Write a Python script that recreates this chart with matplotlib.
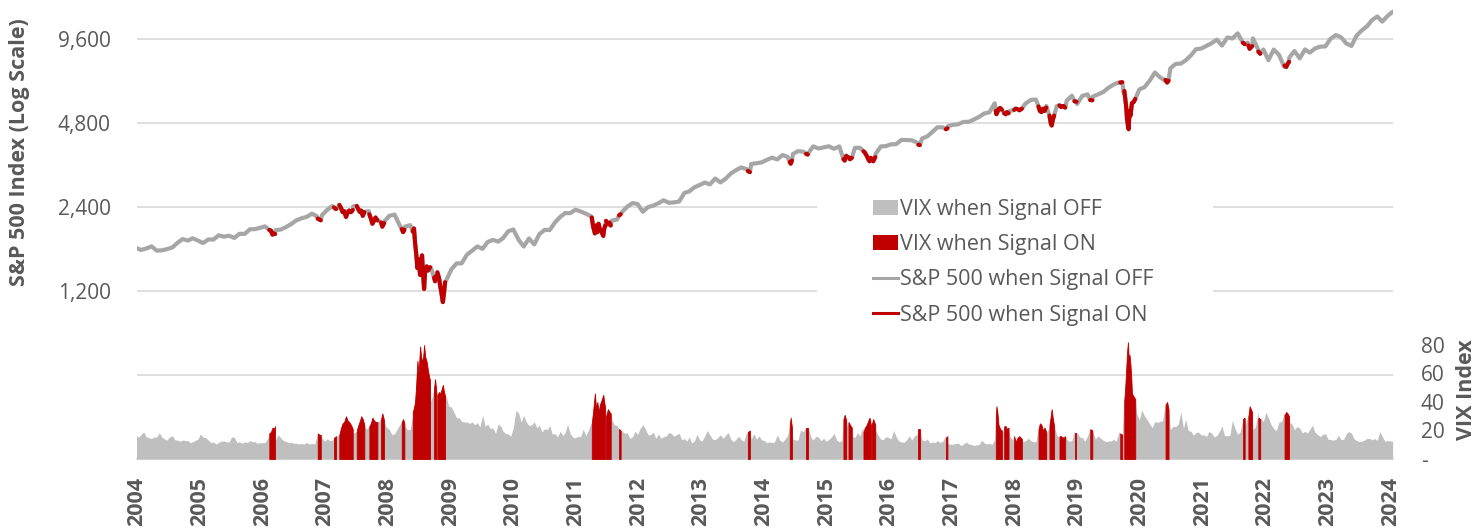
import numpy as np
import pandas as pd
import matplotlib
matplotlib.use("Agg")
import matplotlib.pyplot as plt
from matplotlib.patches import Patch, Rectangle
from matplotlib.lines import Line2D

plt.rcParams['font.family'] = ['Open Sans', 'DejaVu Sans']

# ---------------- data ----------------
# month-end values, Mar 2004 .. Jun 2024
base_start = '2004-03-31'
spx_base = [
    1712, 1683, 1704, 1734, 1675, 1678, 1695, 1718, 1784, 1842,
    1819, 1854, 1819, 1782, 1836, 1834, 1900, 1879, 1893, 1859, 1923, 1922,
    1997, 1998, 2020, 2045, 1981, 1981, 1992, 2034, 2084, 2150, 2186, 2212,
    2272, 2223, 2245, 2342, 2419, 2375, 2299, 2329, 2413, 2447, 2340, 2319,
    2220, 2143, 2130, 2231, 2254, 2061, 2040, 2066, 1877, 1560, 1443, 1454,
    1355, 1205, 1309, 1432, 1507, 1507, 1619, 1674, 1733, 1699, 1797, 1829,
    1804, 1855, 1964, 1994, 1830, 1732, 1851, 1762, 1917, 1987, 1984, 2113,
    2212, 2282, 2281, 2346, 2313, 2272, 2222, 2097, 1945, 2155, 2145, 2164,
    2309, 2404, 2478, 2460, 2306, 2397, 2427, 2476, 2536, 2485, 2492, 2510,
    2696, 2727, 2824, 2876, 2936, 2891, 3035, 2939, 3028, 3163, 3251, 3326,
    3281, 3421, 3444, 3467, 3540, 3606, 3553, 3686, 3628, 3713, 3805, 3789,
    3751, 3957, 3888, 3922, 3961, 3878, 3956, 3707, 3610, 3909, 3910, 3843,
    3725, 3709, 3955, 3965, 4026, 4030, 4174, 4168, 4163, 4082, 4222, 4299,
    4467, 4633, 4631, 4673, 4728, 4749, 4841, 4845, 4937, 5047, 5190, 5241,
    5648, 5428, 5282, 5296, 5410, 5436, 5632, 5804, 5828, 5424, 5520, 5014,
    5516, 5679, 5781, 6010, 5614, 6002, 6079, 5969, 6073, 6198, 6408, 6591,
    6710, 6144, 5377, 6057, 6332, 6448, 6804, 7280, 6995, 6802, 7534, 7812,
    7837, 8041, 8383, 8822, 8870, 9069, 9273, 9544, 9090, 9717, 9636, 10056,
    9619, 9317, 9649, 8801, 8801, 8062, 8797, 8424, 7638, 8247, 8690, 8179,
    8806, 8575, 8875, 9005, 9029, 9612, 9912, 9737, 9262, 9059, 9867, 10303,
    10661, 11211, 11559, 11079, 11612, 12012,
]
vix_base = [
    16.7, 17.2, 15.5, 14.3, 15.3, 15.3, 13.3, 16.3, 13.2, 13.3,
    12.8, 12.1, 14.0, 15.3, 13.3, 12.0, 11.6, 12.6, 11.9, 15.3, 12.1, 12.1,
    12.9, 12.3, 11.4, 11.6, 16.4, 13.1, 14.9, 12.3, 11.8, 11.1, 10.9, 11.6,
    11.0, 15.4, 14.6, 14.2, 13.1, 16.2, 23.5, 23.4, 18.0, 18.5, 22.9, 22.5,
    26.2, 26.5, 25.6, 20.8, 17.8, 23.9, 22.9, 20.7, 39.4, 59.9, 55.3, 40.0,
    44.8, 46.4, 44.1, 36.5, 28.9, 26.4, 25.9, 26.0, 25.6, 30.7, 24.5, 21.7,
    24.6, 19.5, 17.6, 22.1, 32.1, 30.5, 23.5, 26.1, 23.7, 21.2, 23.5, 17.8,
    19.5, 18.4, 17.7, 14.8, 15.5, 16.5, 25.3, 31.6, 42.9, 29.9, 27.8, 23.4,
    19.4, 18.4, 15.5, 17.2, 24.1, 17.1, 18.9, 17.5, 15.7, 18.6, 16.0, 18.0,
    14.3, 15.5, 12.7, 13.5, 16.3, 16.9, 13.5, 17.0, 16.6, 13.8, 13.7, 13.7,
    18.4, 14.0, 13.9, 13.4, 11.4, 11.6, 17.0, 12.0, 16.3, 14.0, 13.3, 19.2,
    21.0, 13.3, 15.3, 14.6, 13.8, 18.2, 12.1, 28.4, 24.5, 15.1, 16.1, 18.2,
    20.2, 20.6, 13.9, 15.7, 14.2, 15.6, 11.9, 13.4, 13.3, 17.1, 13.3, 14.0,
    12.0, 12.9, 12.4, 10.8, 10.4, 11.2, 10.3, 10.6, 9.5, 10.2, 11.3, 11.0,
    13.5, 19.9, 20.0, 15.9, 15.4, 16.1, 12.8, 12.9, 12.1, 21.2, 18.1, 25.4,
    16.6, 14.8, 13.7, 13.1, 18.7, 15.1, 16.1, 19.0, 16.2, 13.2, 12.6, 13.8,
    18.8, 40.1, 53.5, 34.2, 27.5, 30.4, 24.5, 26.4, 26.4, 38.0, 20.6, 22.8,
    33.1, 27.9, 19.4, 18.6, 16.8, 15.8, 18.2, 16.5, 23.1, 16.3, 27.2, 17.2,
    24.8, 30.2, 20.6, 33.4, 26.2, 28.7, 21.3, 25.9, 31.6, 25.9, 20.6, 21.7,
    19.4, 20.7, 18.7, 15.8, 17.9, 13.6, 13.6, 13.6, 17.5, 18.1, 12.9, 12.5,
    14.4, 13.4, 13.0, 15.7, 12.9, 12.4,
]
# mid-month VIX readings (15th), Mar 2004 .. Jun 2024
mid_month_start = '2004-03-01'
vix_mid = [
    20.7, 15.3, 19.0, 15.0, 15.5, 18.5, 14.0, 15.5, 13.5, 12.5,
    13.0, 11.5, 13.0, 17.5, 15.0, 11.5, 10.5, 12.5, 12.0, 15.5, 11.5, 11.0,
    11.5, 12.0, 11.0, 11.5, 14.5, 21.0, 17.0, 13.0, 11.5, 11.0, 10.5, 10.5,
    10.5, 10.5, 16.5, 12.5, 13.0, 13.5, 16.0, 28.0, 26.0, 19.0, 25.0, 21.0,
    25.0, 25.0, 30.0, 22.0, 17.0, 21.0, 28.0, 20.5, 31.0, 69.0, 66.0, 55.0,
    48.0, 46.0, 45.0, 37.0, 33.0, 29.0, 26.0, 25.0, 24.0, 22.5, 23.0, 21.5,
    17.9, 23.0, 18.0, 16.0, 34.0, 26.0, 26.0, 24.0, 22.0, 19.0, 20.5, 17.5,
    15.5, 16.5, 24.3, 15.3, 16.0, 21.0, 20.0, 36.0, 38.0, 28.0, 33.0, 24.0,
    21.0, 18.0, 14.5, 19.5, 21.5, 21.0, 17.0, 14.5, 14.5, 16.0, 18.0, 17.0,
    13.5, 12.5, 11.3, 17.3, 12.5, 20.0, 14.0, 15.0, 14.5, 18.7, 12.2, 16.0,
    12.3, 17.0, 17.8, 16.3, 13.0, 12.0, 11.9, 13.2, 14.0, 26.0, 13.3, 20.4,
    22.4, 15.0, 16.0, 12.8, 12.4, 15.4, 13.2, 13.0, 22.5, 16.0, 18.5, 22.0,
    24.0, 25.0, 16.8, 13.6, 15.0, 20.1, 12.7, 11.8, 16.3, 16.1, 14.5, 12.8,
    11.2, 11.5, 11.6, 15.9, 10.4, 10.9, 9.5, 12.0, 10.2, 9.9, 13.1, 10.5,
    10.2, 25.0, 16.6, 18.0, 13.4, 12.0, 12.2, 14.6, 12.1, 21.3, 20.0, 21.6,
    19.0, 14.9, 13.5, 12.3, 20.0, 15.3, 12.4, 21.2, 14.0, 14.6, 12.1, 12.6,
    12.4, 14.0, 57.0, 41.0, 32.0, 34.4, 27.8, 22.0, 25.6, 26.9, 23.0, 22.9,
    24.3, 21.5, 20.0, 16.6, 18.8, 17.0, 19.3, 15.5, 19.5, 16.3, 16.5, 21.6,
    19.2, 24.3, 30.0, 22.7, 28.9, 32.9, 24.2, 19.9, 26.3, 32.0, 24.5, 22.8,
    18.3, 18.2, 23.7, 17.1, 17.2, 13.9, 13.3, 16.5, 13.8, 19.3, 14.2, 12.3,
    13.3, 14.4, 14.4, 19.2, 12.5, 12.7,
]

# Signal ON episodes (decimal year, S&P 500 level, VIX level, episode id)
ev_date = [
    2006.394, 2006.420, 2006.445, 2006.465, 2006.486,
    2007.174, 2007.200, 2007.223,
    2007.437, 2007.469,
    2007.522, 2007.550, 2007.575, 2007.600, 2007.630, 2007.655, 2007.680, 2007.710, 2007.738,
    2007.803, 2007.830, 2007.855, 2007.875, 2007.900, 2007.925,
    2008.006, 2008.030, 2008.055, 2008.080, 2008.105, 2008.135,
    2008.195, 2008.215, 2008.243,
    2008.528, 2008.550, 2008.570,
    2008.705, 2008.725, 2008.742, 2008.760, 2008.780, 2008.800, 2008.823, 2008.840,
    2008.855, 2008.870, 2008.888, 2008.905, 2008.931, 2008.950, 2008.968, 2008.984,
    2009.049, 2009.065, 2009.086,
    2009.102, 2009.130, 2009.150, 2009.170, 2009.190, 2009.205, 2009.226,
    2011.590, 2011.610, 2011.640, 2011.660, 2011.680, 2011.700, 2011.720, 2011.745,
    2011.775, 2011.790, 2011.805,
    2011.820, 2011.850, 2011.875, 2011.895,
    2012.030, 2012.055,
    2014.105, 2014.137,
    2014.780, 2014.795, 2014.815,
    2015.044, 2015.070,
    2015.645, 2015.665, 2015.690,
    2015.726, 2015.750, 2015.780,
    2015.968, 2015.990, 2016.020, 2016.045, 2016.065, 2016.087,
    2016.100, 2016.125, 2016.157,
    2016.854, 2016.875,
    2017.296, 2017.320,
    2018.100, 2018.110, 2018.125, 2018.143, 2018.170, 2018.198,
    2018.235, 2018.260, 2018.280, 2018.305,
    2018.396, 2018.420, 2018.450, 2018.480, 2018.520,
    2018.788, 2018.810, 2018.835, 2018.860, 2018.885, 2018.912,
    2018.965, 2018.985, 2019.000, 2019.020, 2019.040,
    2019.126, 2019.150, 2019.190, 2019.218,
    2019.369, 2019.400,
    2019.622, 2019.655,
    2020.105, 2020.137,
    2020.170, 2020.185, 2020.200, 2020.215, 2020.229, 2020.240, 2020.255, 2020.270,
    2020.285, 2020.293, 2020.320, 2020.347,
    2020.835, 2020.860, 2020.883,
    2022.082, 2022.110,
    2022.170, 2022.190, 2022.210, 2022.230,
    2022.330, 2022.360,
    2022.753, 2022.780, 2022.800, 2022.824,
]
ev_spx = [
    1985, 1975, 1910, 1930, 1920,
    2180, 2165, 2150,
    2390, 2360,
    2440, 2380, 2300, 2320, 2210, 2290, 2330, 2300, 2340,
    2420, 2350, 2300, 2330, 2230, 2300,
    2260, 2180, 2090, 2140, 2200, 2150,
    2110, 2040, 2100,
    2000, 1950, 1990,
    1960, 2010, 1790, 1640, 1450, 1560, 1370, 1500,
    1610, 1400, 1220, 1420, 1470, 1420, 1440, 1460,
    1340, 1300, 1360,
    1400, 1330, 1240, 1170, 1095, 1160, 1290,
    2200, 2050, 1930, 2060, 1950, 2090, 2000, 1960,
    1890, 2000, 2060,
    2140, 2080, 2110, 2060,
    2240, 2260,
    3230, 3200,
    3480, 3430, 3520,
    3720, 3700,
    3560, 3520, 3660,
    3620, 3560, 3600,
    3800, 3760, 3660, 3560, 3500, 3600,
    3560, 3500, 3620,
    4010, 4000,
    4560, 4590,
    5300, 5160, 5250, 5380, 5430, 5350,
    5200, 5160, 5250, 5200,
    5350, 5400, 5380, 5330, 5400,
    5500, 5300, 5250, 5400, 5300, 5450,
    5100, 4800, 4700, 4950, 5100,
    5550, 5480, 5520, 5450,
    5740, 5720,
    5800, 5790,
    6700, 6720,
    6250, 5900, 5500, 4950, 4700, 4560, 5300, 5100,
    5450, 5650, 5700, 5850,
    6850, 6700, 6800,
    9300, 9200,
    9100, 8850, 8950, 9050,
    8650, 8500,
    7700, 7620, 7800, 7950,
]
ev_vix = [
    18, 19, 22, 21, 23,
    18, 17, 17,
    15, 16,
    17, 22, 25, 26, 30, 27, 26, 24, 21,
    20, 24, 27, 30, 28, 24,
    23, 25, 29, 27, 26, 26,
    28, 32, 27,
    26, 28, 25,
    33, 36, 40, 52, 69, 60, 79, 72,
    69, 70, 80, 72, 68, 62, 58, 55,
    50, 56, 47,
    45, 47, 46, 49, 52, 48, 44,
    25, 33, 46, 35, 40, 33, 38, 41,
    45, 40, 36,
    30, 35, 33, 32,
    21, 20,
    19, 20,
    24, 29, 22,
    22, 22,
    28, 31, 27,
    26, 24, 22,
    19, 22, 24, 27, 29, 24,
    24, 28, 24,
    21, 21,
    15, 16,
    30, 37, 33, 24, 21, 20,
    23, 23, 21, 22,
    16, 12, 15, 16, 14,
    21, 25, 24, 20, 22, 19,
    24, 30, 35, 28, 23,
    16, 16, 15, 16,
    18, 18,
    21, 20,
    18, 17,
    41, 50, 62, 75, 82, 72, 73, 66,
    55, 46, 44, 42,
    38, 40, 35,
    28, 29,
    30, 37, 35, 33,
    29, 28,
    31, 33, 32, 30,
]
ev_group = (
    [1] * 5 + [2] * 3 + [3] * 2 + [4] * 9 + [5] * 6 + [6] * 6 + [7] * 3 + [8] * 3
    + [9] * 16 + [10] * 3 + [11] * 7 + [12] * 11 + [13] * 4 + [14] * 2 + [15] * 2
    + [16] * 3 + [17] * 2 + [18] * 3 + [19] * 3 + [20] * 6 + [21] * 3 + [22] * 2
    + [23] * 2 + [24] * 6 + [25] * 4 + [26] * 5 + [27] * 6 + [28] * 5 + [29] * 4
    + [30] * 2 + [31] * 2 + [32] * 2 + [33] * 12 + [34] * 3 + [35] * 2 + [36] * 4
    + [37] * 2 + [38] * 4
)

year_labels = [str(y) for y in range(2004, 2025)]
label_start, label_step = 2004.262, 1.0097   # label positions on the trading-day axis
spx_ticks = [300, 600, 1200, 2400, 4800, 9600]
spx_tick_labels = ['', '', '1,200', '2,400', '4,800', '9,600']
vix_ticks = [0, 20, 40, 60, 80]
vix_tick_labels = ['-', '20', '40', '60', '80']


# ---------------- assemble ----------------
def decimal_year(d):
    return (d.year + (d.dayofyear - 1) / np.where(d.is_leap_year, 366, 365)).values.astype(float)


bd = pd.date_range(base_start, periods=len(spx_base), freq='ME')
md = pd.date_range(mid_month_start, periods=len(vix_mid), freq='MS') + pd.Timedelta(days=14)
base_x = decimal_year(bd)
mid_x = decimal_year(md)
ex = np.array(ev_date, float)
es = np.array(ev_spx, float)
evx = np.array(ev_vix, float)
eg = np.array(ev_group)
assert len(ex) == len(es) == len(evx) == len(eg)
assert len(spx_base) == len(vix_base) == len(vix_mid)


def outside_events(x):
    inside = np.zeros(len(x), bool)
    for g in np.unique(eg):
        m = eg == g
        inside |= (x >= ex[m].min()) & (x <= ex[m].max())
    return ~inside


kb = outside_events(base_x)
km = outside_events(mid_x)

sx = np.concatenate([base_x[kb], ex])
sy = np.concatenate([np.array(spx_base, float)[kb], es])
o = np.argsort(sx)
sx, sy = sx[o], sy[o]

vx = np.concatenate([base_x[kb], mid_x[km], ex])
vy = np.concatenate([np.array(vix_base, float)[kb], np.array(vix_mid, float)[km], evx])
o = np.argsort(vx)
vx, vy = vx[o], vy[o]

# ---------------- plot ----------------
W, H = 1479, 529
fig = plt.figure(figsize=(W / 100, H / 100), dpi=100)
ax = fig.add_axes([137 / W, 70 / H, 1256 / W, 459 / H])
ax2 = ax.twinx()

GRAY_LINE = '#A6A6A6'
GRAY_FILL = '#BFBFBF'
RED = '#C00000'
TXT = '#595959'

ax.set_yscale('log')
ax.set_ylim(304, 13240)
ax.set_xlim(label_start, 2024.50)
ax.set_axisbelow(True)
ax.yaxis.grid(True, color='#D9D9D9', lw=1.2)
ax.xaxis.grid(False)
ax.minorticks_off()
ax.set_yticks(spx_ticks)
ax.set_yticklabels(spx_tick_labels)
ax.tick_params(axis='y', length=0, pad=19, labelsize=15, labelcolor=TXT)

tick_pos = [label_start + label_step * k for k in range(len(year_labels))]
ax.set_xticks(tick_pos)
ax.set_xticklabels(year_labels, rotation=90, fontweight='bold')
ax.tick_params(axis='x', length=0, pad=13, labelsize=15.5, labelcolor=TXT)

for sp in ['top', 'right', 'left']:
    ax.spines[sp].set_visible(False)
ax.spines['bottom'].set_color('#D9D9D9')
ax.spines['bottom'].set_linewidth(1.2)
for sp in ax2.spines.values():
    sp.set_visible(False)

# white block behind legend interrupting gridlines
ax.add_patch(Rectangle((817 / W, (H - 335) / H), 396 / W, 150 / H, transform=fig.transFigure,
                       facecolor='white', edgecolor='none', zorder=1, clip_on=False))

# S&P 500 line
ax.plot(sx, sy, color=GRAY_LINE, lw=3.0, solid_joinstyle='round', solid_capstyle='round', zorder=2)
for g in np.unique(eg):
    m = eg == g
    ax.plot(ex[m], es[m], color=RED, lw=3.0, solid_joinstyle='round', solid_capstyle='round', zorder=3)

# VIX area
ax2.set_ylim(0, 322.1)
ax2.fill_between(vx, vy, 0, color=GRAY_FILL, lw=0, zorder=2)
for g in np.unique(eg):
    m = eg == g
    ax2.fill_between(ex[m], evx[m], 0, color=RED, lw=0.6, edgecolor=RED, zorder=3)
ax2.set_yticks(vix_ticks)
ax2.set_yticklabels(vix_tick_labels)
ax2.tick_params(axis='y', length=0, pad=20, labelsize=15, labelcolor=TXT)

fig.text(20 / W, 1 - 152 / H, 'S&P 500 Index (Log Scale)', rotation=90, ha='center', va='center',
         fontsize=15.5, fontweight='bold', color=TXT)
fig.text(1466 / W, 1 - 390 / H, 'VIX Index', rotation=90, ha='center', va='center',
         fontsize=15.5, fontweight='bold', color=TXT)

handles = [
    Patch(facecolor=GRAY_FILL, edgecolor='none'),
    Patch(facecolor=RED, edgecolor='none'),
    Line2D([], [], color=GRAY_LINE, lw=2.2),
    Line2D([], [], color=RED, lw=2.2),
]
labels = ['VIX when Signal OFF', 'VIX when Signal ON', 'S&P 500 when Signal OFF', 'S&P 500 when Signal ON']
leg = fig.legend(handles, labels, loc='upper left', bbox_to_anchor=(873 / W, 1 - 199 / H),
                 frameon=False, borderpad=0, borderaxespad=0, handlelength=1.16, handleheight=0.65,
                 handletextpad=0.1, labelspacing=0.66, fontsize=15.5, labelcolor=TXT)

fig.savefig('out.png', dpi=100)
